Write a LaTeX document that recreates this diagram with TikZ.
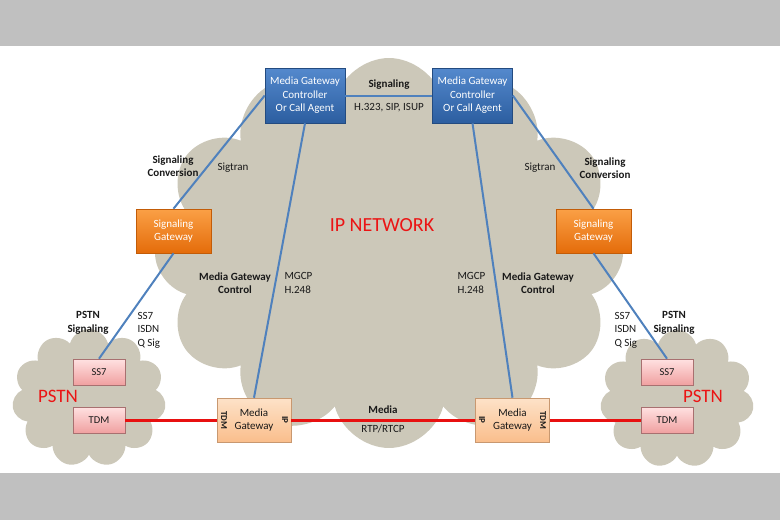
\documentclass[tikz,border=0pt]{standalone}
\usepackage{fontspec}
\setmainfont{Carlito}
\usepackage{tikz}
\usetikzlibrary{shapes.symbols, positioning}
\definecolor{bargray}{RGB}{192,192,192}
\definecolor{cloudgray}{RGB}{204,200,185}
\definecolor{linkblue}{RGB}{79,129,189}
\definecolor{mediared}{RGB}{232,16,16}
\definecolor{ctrltop}{RGB}{84,137,205}
\definecolor{ctrlbot}{RGB}{44,94,160}
\definecolor{sigtop}{RGB}{250,160,70}
\definecolor{sigbot}{RGB}{228,108,10}
\definecolor{gwtop}{RGB}{253,226,200}
\definecolor{gwbot}{RGB}{250,190,140}
\definecolor{pinktop}{RGB}{255,225,225}
\definecolor{pinkbot}{RGB}{240,160,160}
\definecolor{redtext}{RGB}{235,20,20}

\begin{document}
\begin{tikzpicture}[x=1pt, y=-1pt,
    every node/.style={font=\fontsize{11}{13.5}\selectfont, text=black!90, align=center},
    ctrlbox/.style={rectangle, minimum width=80pt, minimum height=55pt, top color=ctrltop, bottom color=ctrlbot, draw=ctrlbot!80!black, line width=0.6pt, text=white, inner sep=1pt},
    sigbox/.style={rectangle, minimum width=75pt, minimum height=44pt, top color=sigtop, bottom color=sigbot, draw=sigbot!85!black, line width=0.6pt, text=white},
    gwbox/.style={rectangle, minimum width=74pt, minimum height=44pt, top color=gwtop, bottom color=gwbot, draw=gwbot!80!black, line width=0.6pt},
    pstnbox/.style={rectangle, minimum width=52pt, minimum height=26pt, top color=pinktop, bottom color=pinkbot, draw=pinkbot!70!black, line width=0.6pt, font=\fontsize{10.5}{12}\selectfont},
    pstncloud/.style={cloud, cloud puffs=11, cloud ignores aspect, fill=cloudgray, minimum width=154pt, minimum height=138pt},
    sigline/.style={draw=linkblue, line width=2pt},
    medialine/.style={draw=mediared, line width=3pt},
    tag/.style={font=\bfseries\fontsize{11}{13.5}\selectfont},
    proto/.style={font=\fontsize{11}{13.5}\selectfont},
    side/.style={font=\bfseries\fontsize{9}{10}\selectfont, rotate=-90, inner sep=0pt}]

    % Page and grey bands
    \useasboundingbox (0,0) rectangle (780,520);
    \fill[bargray] (0,0) rectangle (780,46);
    \fill[bargray] (0,473) rectangle (780,520);

    % Clouds
    \node[cloud, cloud puffs=12, cloud ignores aspect, fill=cloudgray, minimum width=468pt, minimum height=390pt] (ipnet) at (389,253) {};
    \node[pstncloud] (pstnl) at (89,398) {};
    \node[pstncloud] (pstnr) at (677,399) {};

    % Controllers
    \node[ctrlbox] (mgcl) at (305,95.5) {Media Gateway\\Controller\\Or Call Agent};
    \node[ctrlbox] (mgcr) at (472.5,95.5) {Media Gateway\\Controller\\Or Call Agent};

    % Signaling gateways
    \node[sigbox] (sgl) at (173.5,231) {Signaling\\Gateway};
    \node[sigbox] (sgr) at (593.5,231) {Signaling\\Gateway};

    % Media gateways
    \node[gwbox] (mgwl) at (254,420) {Media\\Gateway};
    \node[gwbox] (mgwr) at (512.5,420) {Media\\Gateway};
    \node[side] (tdml) at (224,420) {TDM};
    \node[side] (ipl) at (285,420) {IP};
    \node[side] (ipr) at (482,420) {IP};
    \node[side] (tdmr) at (543,420) {TDM};

    % PSTN boxes
    \node[pstnbox] (ss7l) at (99,372) {SS7};
    \node[pstnbox] (tdmbl) at (99,420) {TDM};
    \node[pstnbox] (ss7r) at (667,372) {SS7};
    \node[pstnbox] (tdmbr) at (667,420) {TDM};

    % Signaling links
    \draw[sigline] (mgcl.east) -- (mgcr.west);
    \draw[sigline] (mgcl.west) -- (sgl.north);
    \draw[sigline] (sgl.south) -- (ss7l.north);
    \draw[sigline] (mgcr.east) -- (sgr.north);
    \draw[sigline] (sgr.south) -- (ss7r.north);
    \draw[sigline] (mgcl.south) -- (mgwl.north);
    \draw[sigline] (mgcr.south) -- (mgwr.north);

    % Media path
    \draw[medialine] (tdmbl.east) -- (mgwl.west);
    \draw[medialine] (mgwl.east) -- (mgwr.west);
    \draw[medialine] (mgwr.east) -- (tdmbr.west);

    % Labels
    \node[tag] (sigtop) at (389,85) {Signaling};
    \node[proto] (sipline) at (389,108) {H.323, SIP, ISUP};
    \node[font=\fontsize{20}{22}\selectfont, text=redtext] (iplabel) at (382,225) {IP NETWORK};
    \node[tag] (convl) at (173,166) {Signaling\\Conversion};
    \node[tag] (convr) at (605,168) {Signaling\\Conversion};
    \node[proto] (sigtranl) at (233,168) {Sigtran};
    \node[proto] (sigtranr) at (540,168) {Sigtran};
    \node[tag] (ctrll) at (235,283) {Media Gateway\\Control};
    \node[tag] (ctrlr) at (538,283) {Media Gateway\\Control};
    \node[proto, anchor=west, align=left] (mgcpl) at (281,283) {MGCP\\H.248};
    \node[proto, anchor=west, align=left] (mgcpr) at (454,283) {MGCP\\H.248};
    \node[tag] (psigl) at (88,323) {PSTN\\Signaling};
    \node[tag] (psigr) at (674,323) {PSTN\\Signaling};
    \node[proto, anchor=west, align=left] (isdnl) at (134,330) {SS7\\ISDN\\Q Sig};
    \node[proto, anchor=west, align=left] (isdnr) at (611,330) {SS7\\ISDN\\Q Sig};
    \node[font=\fontsize{19}{21}\selectfont, text=redtext] (pstnlabl) at (58,396) {PSTN};
    \node[font=\fontsize{19}{21}\selectfont, text=redtext] (pstnlabr) at (703,396) {PSTN};
    \node[tag] (medialab) at (383,410) {Media};
    \node[proto] (rtplab) at (383,429) {RTP/RTCP};
\end{tikzpicture}
\end{document}
